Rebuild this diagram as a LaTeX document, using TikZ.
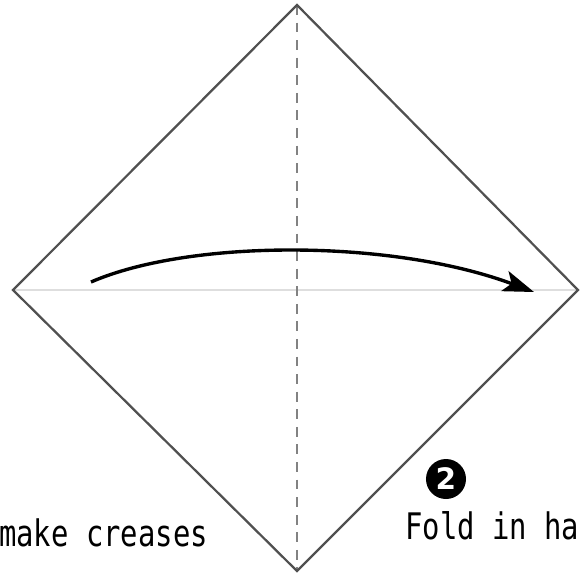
\documentclass[tikz,border=0pt]{standalone}
\usepackage{fontspec}
\usepackage{tikz}
\usetikzlibrary{positioning, arrows.meta}
\newfontfamily\labelfont{DejaVu Sans Mono}
\newfontfamily\numfont{DejaVu Sans}
\definecolor{edgegray}{RGB}{80,80,80}
\definecolor{creasegray}{RGB}{222,222,222}
\definecolor{dashgray}{RGB}{130,130,130}
\tikzset{
  paperedge/.style={draw=edgegray, line width=1.6pt, line join=miter},
  creaseline/.style={draw=creasegray, line width=1.1pt},
  valleyline/.style={draw=dashgray, line width=1.5pt, dash pattern=on 7pt off 5.5pt},
  foldarrow/.style={draw=black, line width=2.4pt, -{Stealth[length=22pt, width=15pt, inset=5pt]}},
  steplabel/.style={font=\labelfont\fontsize{26}{26}\selectfont, text=black,
    inner sep=0pt, xscale=0.79},
  stepnum/.style={circle, fill=black, text=white, minimum size=1.0cm, inner sep=0pt,
    font=\numfont\bfseries\fontsize{21}{21}\selectfont}
}

\begin{document}
\begin{tikzpicture}[x=0.025cm, y=-0.025cm]
  \useasboundingbox (0,0) rectangle (580,575);
  \clip (0,0) rectangle (580,575);
  % corners of the square
  \coordinate (ptop) at (297,5);
  \coordinate (pleft) at (13,290);
  \coordinate (pright) at (578,290);
  \coordinate (pbot) at (297,571);
  % creases
  \draw[creaseline] (pleft) -- (pright);
  \draw[valleyline] (ptop) -- (pbot);
  \draw[paperedge] (ptop) -- (pright) -- (pbot) -- (pleft) -- cycle;
  % fold arrow
  \coordinate (arrstart) at (91,282);
  \coordinate (arrend) at (534,292);
  \draw[foldarrow] (arrstart) .. controls (190,239) and (392,239) .. (arrend);
  % labels
  \node[stepnum] (num2) at (446,479) {2};
  \node[steplabel, anchor=base west] (fold) at (405,539) {Fold in ha};
  \node[steplabel, anchor=base west] (crease) at (-1,546) {make creases};
\end{tikzpicture}
\end{document}
